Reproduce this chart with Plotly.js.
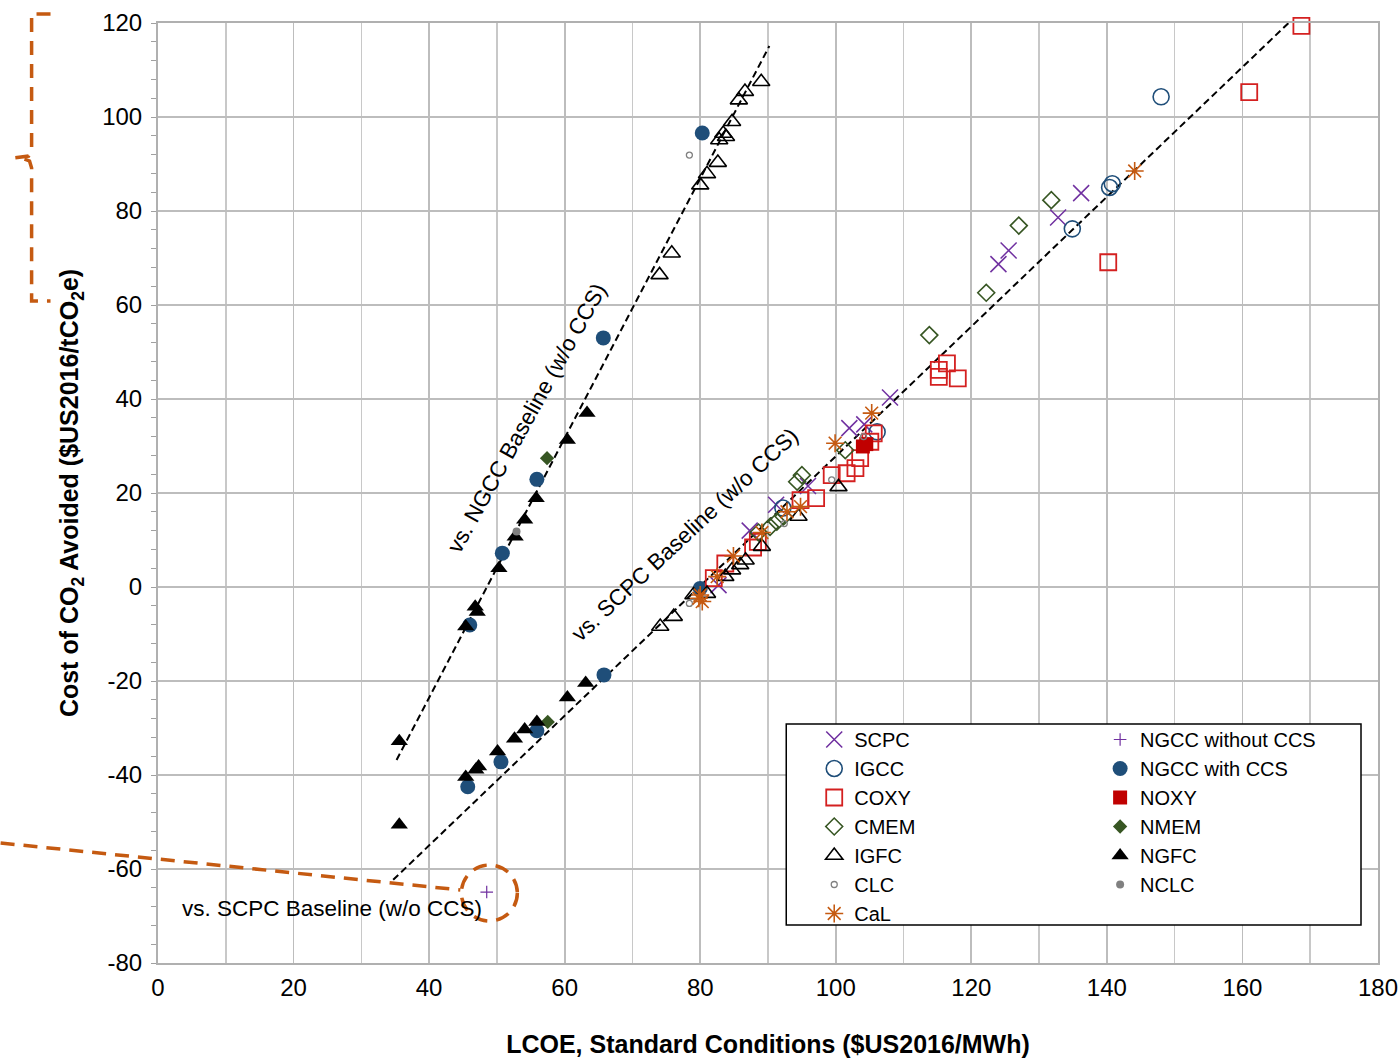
<!DOCTYPE html>
<html><head><meta charset="utf-8">
<script src="https://cdn.plot.ly/plotly-3.0.1.min.js"></script>
<style>html,body{margin:0;padding:0;background:#fff}#chart{width:1398px;height:1059px}</style>
</head><body><div id="chart"></div>
<script>
// ---- data (LCOE $/MWh, cost of CO2 avoided $/tCO2e) ----
const scpcX = [82.7, 87.3, 91.2, 95.9, 102.0, 104.2, 108.0, 124.0, 125.5, 132.8, 136.2];
const scpcY = [0.4, 12.0, 17.5, 21.5, 33.8, 34.6, 40.3, 68.7, 71.6, 78.6, 83.8];

const ngccNoX = [48.5];
const ngccNoY = [-64.9];

const igccX = [92.2, 106.1, 134.9, 140.4, 140.8, 148.0];
const igccY = [16.8, 33.0, 76.2, 85.0, 85.8, 104.3];

const ngccCcsX = [46.0, 50.8, 55.9, 65.7, 80.3, 45.7, 50.6, 55.9, 65.8, 80.0];
const ngccCcsY = [-8.1, 7.2, 22.9, 53.0, 96.6, -42.5, -37.2, -30.6, -18.7, -0.3];

const coxyX = [82.0, 83.7, 87.8, 88.5, 94.8, 97.1, 99.4, 101.6, 102.9, 103.6, 105.1, 105.6, 115.2, 115.2, 116.4, 118.0, 140.2, 161.0, 168.7];
const coxyY = [1.9, 5.0, 8.4, 9.6, 18.5, 18.9, 23.8, 24.2, 25.3, 27.4, 30.9, 32.7, 44.7, 46.2, 47.6, 44.4, 69.1, 105.3, 119.4];

const noxyX = [104.0, 104.5];
const noxyY = [29.9, 30.4];

const cmemX = [88.6, 90.3, 91.3, 92.3, 94.3, 95.0, 101.4, 113.8, 122.2, 127.0, 131.8];
const cmemY = [11.6, 12.8, 13.9, 15.0, 22.4, 23.8, 29.1, 53.6, 62.6, 76.9, 82.3];

const nmemX = [57.4, 57.5];
const nmemY = [27.4, -28.7];

const igfcX = [74.1, 76.1, 79.0, 81.0, 83.7, 84.7, 85.9, 86.7, 89.1, 94.5, 100.4,
               74.0, 75.8, 80.0, 81.0, 82.6, 82.8, 83.4, 83.8, 84.7, 85.7, 86.6, 89.0];
const igfcY = [-8.4, -6.3, -1.7, -1.4, 2.2, 3.6, 4.7, 5.7, 8.6, 15.0, 21.3,
               66.4, 71.0, 85.5, 87.9, 90.3, 95.1, 96.5, 95.8, 99.0, 103.6, 105.4, 107.5];

const ngfcX = [35.6, 45.4, 46.8, 47.1, 50.3, 52.7, 54.1, 55.8, 60.4, 63.3,
               35.6, 45.4, 46.9, 47.3, 50.1, 52.6, 54.1, 55.9, 60.4, 63.1];
const ngfcY = [-32.8, -8.4, -4.2, -5.3, 4.0, 10.7, 14.3, 18.9, 31.3, 37.0,
               -50.6, -40.4, -38.9, -38.2, -35.0, -32.3, -30.3, -28.7, -23.5, -20.4];

const clcX = [78.4, 92.4, 99.4, 104.1, 78.4];
const clcY = [-3.5, 13.5, 22.8, 32.0, 91.9];

const nclcX = [52.9];
const nclcY = [11.8];

const calX = [79.8, 80.0, 80.3, 82.5, 84.9, 89.1, 92.8, 94.8, 99.9, 105.3, 144.1];
const calY = [-2.4, -1.7, -3.1, 2.2, 6.6, 11.6, 16.0, 17.1, 30.6, 37.0, 88.5];

// trend lines (baselines)
const ngccLineX = [35.2, 90.2];
const ngccLineY = [-36.8, 115.1];
const scpcLineX = [34.7, 166.8];
const scpcLineY = [-62.3, 120.0];

const xTicks = [0, 20, 40, 60, 80, 100, 120, 140, 160, 180];
const yTicks = [-80, -60, -40, -20, 0, 20, 40, 60, 80, 100, 120];

// ---- styling ----
const FONT = 'Liberation Sans, Arial, sans-serif';
const PURPLE = '#7030a0', BLUE = '#1f4e79', RED = '#c00000', GREEN = '#375623', ORANGE = '#c55a11', GRAY = '#808080';

function sc(name, x, y, marker, legend) {
  return {type: 'scatter', mode: 'markers', name: name, x: x, y: y, marker: marker,
          legend: legend, cliponaxis: false, hoverinfo: 'x+y+name'};
}
function ln(x, y) {
  return {type: 'scatter', mode: 'lines', x: x, y: y, showlegend: false,
          line: {color: '#000', width: 2, dash: '7px,4px'}, hoverinfo: 'skip'};
}

const traces = [
  ln(ngccLineX, ngccLineY),
  ln(scpcLineX, scpcLineY),
  sc('SCPC', scpcX, scpcY, {symbol: 'x-thin-open', size: 16, color: PURPLE, line: {color: PURPLE, width: 1.5}}, 'legend'),
  sc('NGCC without CCS', ngccNoX, ngccNoY, {symbol: 'cross-thin-open', size: 9, color: PURPLE, line: {color: PURPLE, width: 1.2}}, 'legend2'),
  sc('IGCC', igccX, igccY, {symbol: 'circle-open', size: 16, color: BLUE, line: {color: BLUE, width: 1.6}}, 'legend'),
  sc('NGCC with CCS', ngccCcsX, ngccCcsY, {symbol: 'circle', size: 15, color: BLUE, line: {width: 0}}, 'legend2'),
  sc('COXY', coxyX, coxyY, {symbol: 'square-open', size: 16, color: '#d42020', line: {color: '#d42020', width: 1.8}}, 'legend'),
  sc('NOXY', noxyX, noxyY, {symbol: 'square', size: 14, color: RED, line: {width: 0}}, 'legend2'),
  sc('CMEM', cmemX, cmemY, {symbol: 'diamond-open', size: 13, color: GREEN, line: {color: GREEN, width: 1.6}}, 'legend'),
  sc('NMEM', nmemX, nmemY, {symbol: 'diamond', size: 11, color: GREEN, line: {width: 0}}, 'legend2'),
  sc('IGFC', igfcX, igfcY, {symbol: 'triangle-up-open', size: 15, color: '#000', line: {color: '#000', width: 1.6}}, 'legend'),
  sc('NGFC', ngfcX, ngfcY, {symbol: 'triangle-up', size: 15, color: '#000', line: {width: 0}}, 'legend2'),
  sc('CLC', clcX, clcY, {symbol: 'circle-open', size: 6, color: GRAY, line: {color: GRAY, width: 1.3}}, 'legend'),
  sc('NCLC', nclcX, nclcY, {symbol: 'circle', size: 8, color: GRAY, line: {width: 0}}, 'legend2'),
  sc('CaL', calX, calY, {symbol: 'asterisk-open', size: 15, color: ORANGE, line: {color: ORANGE, width: 1.6}}, 'legend')
];

// pixel -> paper helpers for the decorative callouts
const L = 157.5, T = 23, W = 1220.5, H = 940;
const px = p => (p - L) / W;
const py = p => 1 - (p - T) / H;
function pathPx(subpaths) {
  return subpaths.map(pts => pts.map((p, i) => (i ? 'L' : 'M') + px(p[0]).toFixed(4) + ',' + py(p[1]).toFixed(4)).join(' ')).join(' ');
}

const dashOrange = {color: ORANGE, width: 3.5, dash: '14px,9px'};

const layout = {
  width: 1398, height: 1059,
  margin: {l: L, r: 1398 - L - W, t: T, b: 1059 - T - H, autoexpand: false},
  paper_bgcolor: '#fff', plot_bgcolor: '#fff',
  font: {family: FONT, color: '#000'},
  showlegend: true,
  xaxis: {
    range: [0, 180], tickvals: xTicks, ticktext: xTicks.map(String),
    showgrid: true, gridcolor: '#bdbdbd', gridwidth: 1.8,
    minor: {dtick: 10, showgrid: true, gridcolor: '#c8c8c8', gridwidth: 1.5},
    showline: true, mirror: true, linecolor: '#b0b0b0', linewidth: 2,
    zeroline: false, ticks: '', ticklabelstandoff: 2, ticklabeloverflow: 'allow',
    tickfont: {size: 24, family: FONT, color: '#000'},
    title: {text: 'LCOE, Standard Conditions ($US2016/MWh)', font: {size: 25, family: FONT, weight: 'bold', color: '#000'}, standoff: 36},
    automargin: false
  },
  yaxis: {
    range: [-80, 120], tickvals: yTicks, ticktext: yTicks.map(String),
    showgrid: true, gridcolor: '#bdbdbd', gridwidth: 1.8,
    minor: {dtick: 4, ticks: 'outside', ticklen: 5, tickcolor: '#a0a0a0', tickwidth: 1, showgrid: false},
    showline: true, mirror: true, linecolor: '#b0b0b0', linewidth: 2,
    zeroline: false, ticks: '', ticklabelstandoff: 9, ticklabeloverflow: 'allow',
    tickfont: {size: 24, family: FONT, color: '#000'},
    title: {text: 'Cost of CO<sub>2</sub> Avoided ($US2016/tCO<sub>2</sub>e)', font: {size: 25, family: FONT, weight: 'bold', color: '#000'}, standoff: 16},
    automargin: false
  },
  legend: {x: px(814), xanchor: 'left', y: py(720), yanchor: 'top', bgcolor: 'rgba(0,0,0,0)', borderwidth: 0,
           font: {size: 20, family: FONT, color: '#000'}, tracegroupgap: 0, itemwidth: 30, traceorder: 'normal'},
  legend2: {x: px(1100), xanchor: 'left', y: py(720), yanchor: 'top', bgcolor: 'rgba(0,0,0,0)', borderwidth: 0,
           font: {size: 20, family: FONT, color: '#000'}, tracegroupgap: 0, itemwidth: 30, traceorder: 'normal'},
  shapes: [
    {type: 'rect', xref: 'paper', yref: 'paper', x0: px(786), x1: px(1361), y0: py(925), y1: py(724),
     line: {color: '#000', width: 1.5}, fillcolor: '#fff', layer: 'above'},
    {type: 'path', xref: 'paper', yref: 'paper', layer: 'above',
     path: pathPx([[[50, 14], [31, 14], [31, 150], [28, 156], [12, 158]], [[24, 159], [29, 161], [31, 168], [31, 301], [50, 301]]]),
     line: dashOrange},
    {type: 'path', xref: 'paper', yref: 'paper', layer: 'above',
     path: pathPx([[[0, 843], [460, 890]]]), line: dashOrange},
    {type: 'circle', xref: 'paper', yref: 'paper', layer: 'above',
     x0: px(461), x1: px(517), y0: py(921), y1: py(865), line: dashOrange}
  ],
  annotations: [
    {x: 54.5, y: 36.0, xref: 'x', yref: 'y', text: 'vs. NGCC Baseline (w/o CCS)', showarrow: false,
     textangle: -61, font: {size: 22.5, family: FONT, color: '#000'}},
    {x: 77.8, y: 11.1, xref: 'x', yref: 'y', text: 'vs. SCPC Baseline (w/o CCS)', showarrow: false,
     textangle: -43, font: {size: 22.5, family: FONT, color: '#000'}},
    {x: 25.7, y: -68.3, xref: 'x', yref: 'y', text: 'vs. SCPC Baseline (w/o CCS)', showarrow: false,
     font: {size: 22.5, family: FONT, color: '#000'}}
  ]
};

Plotly.newPlot('chart', traces, layout, {displayModeBar: false, staticPlot: true});
</script></body></html>
